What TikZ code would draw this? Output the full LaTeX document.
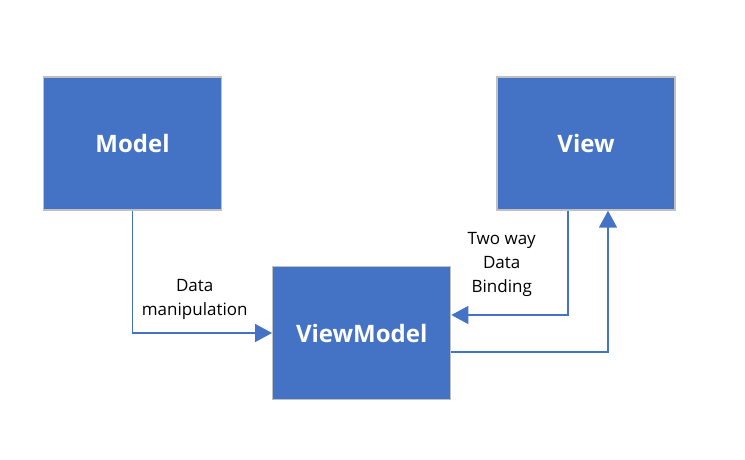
\documentclass[tikz,border=0pt]{standalone}
\usepackage{fontspec}
\setmainfont{Open Sans}
\usetikzlibrary{arrows.meta}

\definecolor{boxblue}{HTML}{4472C4}
\definecolor{boxedge}{HTML}{C0C0C0}

\begin{document}
\begin{tikzpicture}[x=1pt,y=-1pt,
    block/.style={rectangle, draw=boxedge, line width=1.4pt, fill=boxblue,
        minimum width=178pt, minimum height=133pt, inner sep=0pt,
        text=white, font=\fontsize{24}{28}\selectfont\bfseries},
    lbl/.style={align=center, font=\fontsize{17}{24}\selectfont},
    arr/.style={draw=boxblue, line width=1.8pt,
        -{Triangle[length=17pt,width=18pt]}}]

    \useasboundingbox (0,0) rectangle (745,460);

    % the three boxes
    \node[block] (model) at (132.5,143.5) {Model};
    \node[block] (view) at (586,143.5) {View};
    \node[block] (vm) at (361.7,333) {ViewModel};

    % connectors
    \draw[arr] (model.south) |- (vm.west);
    \draw[arr] ([xshift=-18pt]view.south) |- ([yshift=18pt]vm.east);
    \draw[arr] ([yshift=-19pt]vm.east) -| ([xshift=22pt]view.south);

    % labels
    \node[lbl] (manip) at (194.7,299.5) {Data\\manipulation};
    \node[lbl] (binding) at (501.7,264) {Two way\\Data\\Binding};
\end{tikzpicture}
\end{document}
